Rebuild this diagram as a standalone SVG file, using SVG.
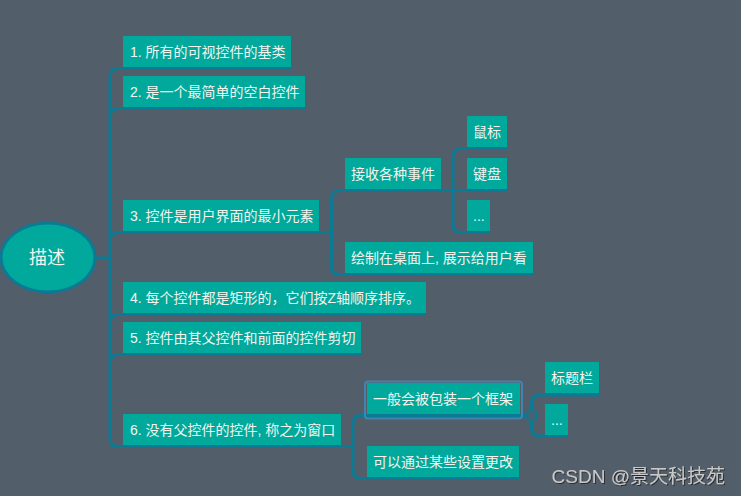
<svg xmlns="http://www.w3.org/2000/svg" width="741" height="496" viewBox="0 0 741 496">
<defs>
<style>
.bg{fill:#525e6a}
.node rect{fill:#00a99c}
.node text{font-family:"Liberation Sans","Noto Sans CJK SC",sans-serif;font-size:14px;fill:#f4f4ee}
.conn path{fill:none;stroke:#0b7b95;stroke-width:3;stroke-linecap:butt}
.root ellipse{fill:#00a99c;stroke:#0b7b95;stroke-width:3}
.root text{font-family:"Liberation Sans","Noto Sans CJK SC",sans-serif;font-size:18px;fill:#f4f4ee;text-anchor:middle}
.wm{font-family:"Liberation Sans","Noto Sans CJK SC",sans-serif;font-size:19px;fill:#c8c8c8;text-anchor:end}
</style>
<filter id="sh" x="-5%" y="-20%" width="110%" height="140%">
<feDropShadow dx="1" dy="1" stdDeviation="0.5" flood-color="#222" flood-opacity="0.8"/>
</filter>
</defs>
<rect class="bg" x="0" y="0" width="741" height="496"/>

<g id="connectors" class="conn">
<path d="M96,258 H110"/>
<path d="M110,76.5 Q110,68.5 118,68.5 H291"/>
<path d="M110,76.5 V438.5"/>
<path d="M110,116.5 Q110,108.5 118,108.5 H305"/>
<path d="M110,240.5 Q110,232.5 118,232.5 H331.5"/>
<path d="M110,322.5 Q110,314.5 118,314.5 H426"/>
<path d="M110,362.5 Q110,354.5 118,354.5 H361"/>
<path d="M110,438.5 Q110,446.5 118,446.5 H353"/>
<path d="M331.5,198.5 Q331.5,190.5 339.5,190.5 H507"/>
<path d="M331.5,198.5 V266.5 Q331.5,274.5 339.5,274.5 H533"/>
<path d="M453,156.5 Q453,148.5 461,148.5 H507"/>
<path d="M453,156.5 V224.5 Q453,232.5 461,232.5 H490"/>
<path d="M353,423.5 Q353,415.5 361,415.5 H526.5"/>
<path d="M353,423.5 V470.5 Q353,478.5 361,478.5 H519"/>
<path d="M531.5,410.5 V403 Q531.5,395 539.5,395 H599"/>
<path d="M531.5,420.5 V428 Q531.5,436 539.5,436 H568"/>
<circle cx="531.5" cy="415.5" r="5" fill="#525e6a" stroke="#0b7b95" stroke-width="2"/>
<path d="M528,415.5 H535" style="stroke-width:1.5"/>
</g>

<g id="root" class="root">
<ellipse cx="48" cy="257.5" rx="47" ry="34.5"/>
<text x="47" y="264">描述</text>
</g>

<g id="n1" class="node"><rect x="123" y="36" width="168" height="31"/><text x="130" y="56.5">1. 所有的可视控件的基类</text></g>
<g id="n2" class="node"><rect x="123" y="76" width="182" height="31"/><text x="130" y="96.5">2. 是一个最简单的空白控件</text></g>
<g id="n3" class="node"><rect x="123" y="200" width="196" height="31"/><text x="130" y="220.5">3. 控件是用户界面的最小元素</text></g>
<g id="n3a" class="node"><rect x="345" y="158" width="96" height="31"/><text x="351" y="178.5">接收各种事件</text></g>
<g id="n3a1" class="node"><rect x="467" y="116" width="40" height="31"/><text x="473" y="136.5">鼠标</text></g>
<g id="n3a2" class="node"><rect x="467" y="158" width="40" height="31"/><text x="473" y="178.5">键盘</text></g>
<g id="n3a3" class="node"><rect x="467" y="200" width="23" height="31"/><text x="473" y="220.5">...</text></g>
<g id="n3b" class="node"><rect x="345" y="242" width="188" height="31"/><text x="351" y="262.5">绘制在桌面上, 展示给用户看</text></g>
<g id="n4" class="node"><rect x="123" y="282" width="303" height="31"/><text x="130" y="302.5">4. 每个控件都是矩形的，它们按Z轴顺序排序。</text></g>
<g id="n5" class="node"><rect x="123" y="322" width="238" height="31"/><text x="130" y="342.5">5. 控件由其父控件和前面的控件剪切</text></g>
<g id="n6" class="node"><rect x="123" y="414" width="218" height="31"/><text x="130" y="434.5">6. 没有父控件的控件, 称之为窗口</text></g>
<g id="n6a" class="node"><rect x="367" y="383" width="153" height="31"/><text x="373" y="403.5">一般会被包装一个框架</text>
<rect x="365" y="381.5" width="157" height="37" rx="3" style="fill:none;stroke:#3f8ab6;stroke-width:2;opacity:0.9"/></g>
<g id="n6a1" class="node"><rect x="545" y="362" width="54" height="31"/><text x="551" y="382.5">标题栏</text></g>
<g id="n6a2" class="node"><rect x="545" y="404" width="23" height="31"/><text x="551" y="424.5">...</text></g>
<g id="n6b" class="node"><rect x="367" y="446" width="152" height="31"/><text x="373" y="466.5">可以通过某些设置更改</text></g>

<text class="wm" x="725" y="483" filter="url(#sh)">CSDN @景天科技苑</text>
</svg>
